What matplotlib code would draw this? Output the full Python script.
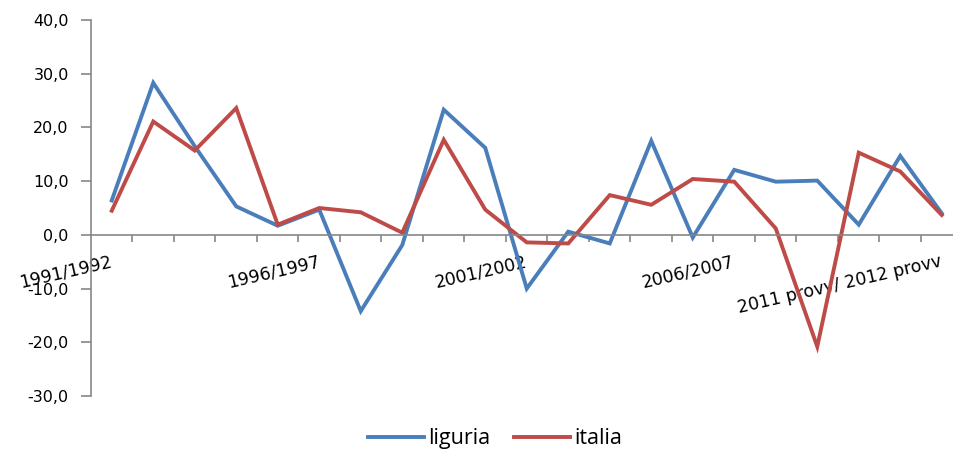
import numpy as np
import matplotlib.pyplot as plt
from matplotlib.ticker import FixedLocator, FuncFormatter

anni = ["1991/1992", "1992/1993", "1993/1994", "1994/1995", "1995/1996",
        "1996/1997", "1997/1998", "1998/1999", "1999/2000", "2000/2001",
        "2001/2002", "2002/2003", "2003/2004", "2004/2005", "2005/2006",
        "2006/2007", "2007/2008", "2008/2009", "2009/2010", "2010/2011",
        "2011 provv/ 2012 provv"]
liguria = [6.4, 28.3, 16.5, 5.3, 1.7, 4.7, -14.2, -1.9, 23.3, 16.2, -10.0,
           0.6, -1.6, 17.5, -0.5, 12.1, 9.9, 10.1, 1.9, 14.7, 4.0]
italia = [4.5, 21.1, 15.7, 23.6, 1.9, 5.0, 4.2, 0.4, 17.7, 4.7, -1.4,
          -1.6, 7.4, 5.6, 10.4, 9.9, 1.2, -20.8, 15.3, 11.8, 3.7]

fig = plt.figure(figsize=(9.54, 4.54), dpi=100)
ax = fig.add_axes([91/954, 1-396/454, 871.5/954, 376/454])

x = np.arange(len(anni))
ax.plot(x, liguria, color='#4a7ebb', lw=2.8, label='liguria', solid_joinstyle='miter')
ax.plot(x, italia, color='#be4b48', lw=2.8, label='italia', solid_joinstyle='miter')

ax.set_xlim(-0.5, len(anni)-0.5)
ax.set_ylim(-30, 40)

for s in ['top', 'right']:
    ax.spines[s].set_visible(False)
ax.spines['bottom'].set_position(('data', 0))
ax.spines['left'].set_color('#868686')
ax.spines['bottom'].set_color('#868686')
ax.spines['left'].set_linewidth(1.2)
ax.spines['bottom'].set_linewidth(1.2)

ax.set_yticks(np.arange(-30, 41, 10))
ax.yaxis.set_major_formatter(FuncFormatter(lambda v, p: f"{v:.1f}".replace('.', ',')))
ax.tick_params(axis='y', length=7, width=1.2, color='#868686', pad=9, labelsize=11.5)

lab_idx = list(range(0, len(anni), 5))
ax.set_xticks(lab_idx)
ax.set_xticklabels([anni[i] for i in lab_idx], rotation=13, ha='right',
                   va='center', rotation_mode='anchor', fontsize=12.5)
ax.xaxis.set_minor_locator(FixedLocator(np.arange(0.5, len(anni), 1)))
ax.tick_params(axis='x', which='major', length=0, pad=19)
ax.tick_params(axis='x', which='minor', length=5, width=1.2, color='#868686')

fig.legend(loc='center', bbox_to_anchor=(0.519, 0.034), ncol=2, frameon=False,
           prop={'family': 'Open Sans', 'size': 15.5}, handlelength=2.6,
           handletextpad=0.2, columnspacing=1.1, borderpad=0.1)

fig.savefig('out.png', dpi=100)
